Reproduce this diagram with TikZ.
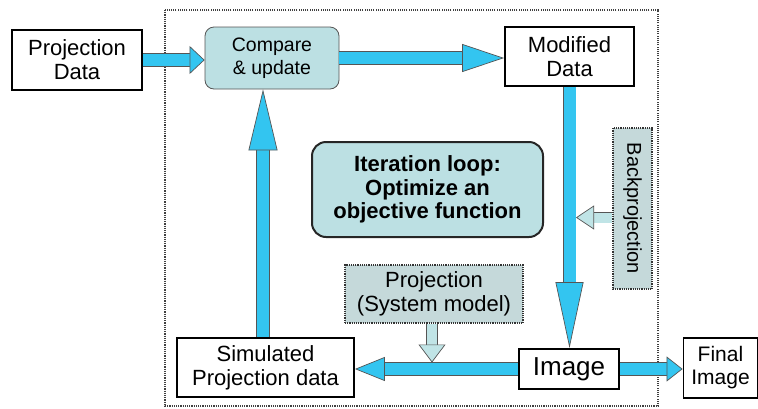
\documentclass[tikz,border=0pt]{standalone}
\usepackage{fontspec}
\setmainfont{Liberation Sans}
\usepackage{tikz}
\usetikzlibrary{positioning,calc,arrows.meta}

\definecolor{flowblue}{RGB}{51,197,240}
\definecolor{tealbox}{RGB}{188,224,227}
\definecolor{greybox}{RGB}{197,217,218}
\definecolor{palearrow}{RGB}{192,228,230}
\definecolor{edgegrey}{RGB}{85,85,85}

\begin{document}
\begin{tikzpicture}[x=1pt,y=-1pt,
  box/.style={draw=black,line width=1.8pt,fill=white,align=center,inner sep=0pt,font=\fontsize{22}{24}\selectfont},
  stepnote/.style={draw=black!80,dash pattern=on 1.2pt off 1pt,line width=1.3pt,fill=greybox,align=center,inner sep=0pt,font=\fontsize{22}{24}\selectfont},
  flow/.style 2 args={draw=flowblue,line width=12pt,
    -{Triangle[length=#1,width=#2,line width=0.7pt,color=edgegrey,fill=flowblue]},
    preaction={draw=edgegrey,line width=13.4pt,-,shorten >=#1}},
  pale/.style 2 args={draw=palearrow,line width=10pt,
    -{Triangle[length=#1,width=#2,line width=0.7pt,color=edgegrey,fill=palearrow]},
    preaction={draw=edgegrey,line width=11.4pt,-,shorten >=#1}}]
\useasboundingbox (0,0) rectangle (758,408);

\draw[black!75,dash pattern=on 1.1pt off 1.1pt,line width=1.1pt] (165,10) rectangle (658,406);

\node[box,minimum width=130pt,minimum height=60pt] (pd) at (77,60) {Projection\\Data};
\node[box,draw=edgegrey,line width=0.8pt,fill=tealbox,rounded corners=9pt,minimum width=134pt,minimum height=62pt,
  font=\fontsize{19.5}{23}\selectfont] (cu) at (272,58) {Compare\\\& update};
\node[box,minimum width=129pt,minimum height=59pt] (md) at (569.5,56.5) {Modified\\Data};
\node[box,draw=black!85,line width=2pt,fill=tealbox,rounded corners=14pt,minimum width=231pt,minimum height=95pt,
  font=\bfseries\fontsize{22}{23.5}\selectfont] (loop) at (427.5,189.5) {Iteration loop:\\Optimize an\\objective function};
\node[stepnote,minimum width=161pt,minimum height=39pt,rotate=-90,font=\fontsize{20}{22}\selectfont] (bp) at (632.5,208.5) {Backprojection};
\node[stepnote,minimum width=178pt,minimum height=58pt] (pm) at (434,294) {Projection\\(System model)};
\node[box,minimum width=177pt,minimum height=59pt] (sim) at (265.5,367.5) {Simulated\\Projection data};
\node[box,minimum width=100pt,minimum height=40pt,font=\fontsize{26}{28}\selectfont] (img) at (569,369) {Image};
\node[box,minimum width=74pt,minimum height=60pt,font=\fontsize{21}{23}\selectfont] (fi) at (720.5,368) {Final\\Image};

\draw[flow={15pt}{28pt}] (pd.east) -- (pd.east -| cu.west);
\draw[flow={42pt}{28pt}] (cu.east) -- (cu.east -| md.west);
\draw[flow={66pt}{28pt}] (md.south) -- (md.south |- img.north);
\draw[flow={16pt}{25pt}] (img.east) -- (img.east -| fi.west);
\draw[flow={30pt}{24pt}] (img.west) -- (img.west -| sim.east);
\draw[flow={61pt}{29pt}] ($(sim.north)+(-2.5,0)$) -- ($(sim.north |- cu.south)+(-2.5,0)$);

\draw[pale={18pt}{24pt}] ($(bp.south)+(0,9)$) -- ($(bp.south -| md.south)+(6.5,9)$);
\draw[pale={18pt}{27pt}] ($(pm.south)+(-2,0)$) -- ($(pm.south |- img.west)+(-2,-6.5)$);

\end{tikzpicture}
\end{document}
